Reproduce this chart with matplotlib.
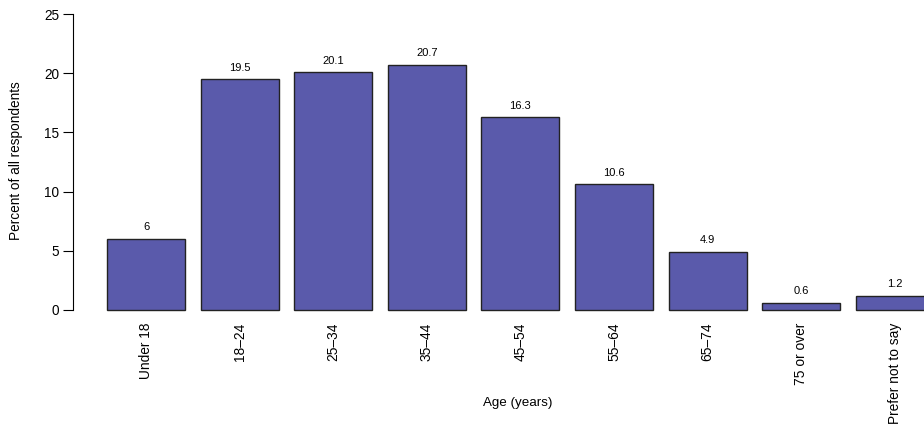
import matplotlib.pyplot as plt
import numpy as np

plt.rcParams['font.family'] = ['Liberation Sans', 'DejaVu Sans']

categories = ['Under 18', '18\u201324', '25\u201334', '35\u201344', '45\u201354',
              '55\u201364', '65\u201374', '75 or over', 'Prefer not to say']
percent = [6, 19.5, 20.1, 20.7, 16.3, 10.6, 4.9, 0.6, 1.2]
value_labels = ['6', '19.5', '20.1', '20.7', '16.3', '10.6', '4.9', '0.6', '1.2']
yticks = [0, 5, 10, 15, 20, 25]

W, H = 924, 426
fig = plt.figure(figsize=(W / 100, H / 100), dpi=100)

# axes placed in pixels to mimic R base graphics layout
left_px, right_px = 73, 924
bottom_px, top_px = 426 - 321.8, 426 - 2.2
ax = fig.add_axes([left_px / W, bottom_px / H, (right_px - left_px) / W, (top_px - bottom_px) / H])

x = 0.7 + 1.2 * np.arange(len(categories))
ax.bar(x, percent, width=1.0, color='#5a5aab', edgecolor='#222222', linewidth=1.0)

for xi, v, lab in zip(x, percent, value_labels):
    ax.text(xi, v + 0.55, lab, ha='center', va='bottom', fontsize=8)

ax.set_xlim(0.2 - 34 / 78, 0.2 + (right_px - 107) / 78)
ax.set_ylim(-1, 26)

for s in ['top', 'right', 'bottom']:
    ax.spines[s].set_visible(False)
ax.spines['left'].set_bounds(0, 25)
ax.spines['left'].set_linewidth(0.8)
ax.set_yticks(yticks)
ax.tick_params(axis='y', length=7, width=0.8, labelsize=9.8, pad=3)

ax.set_xticks(x)
ax.set_xticklabels(categories, rotation=90, fontsize=9.9, va='top', ha='center')
ax.tick_params(axis='x', length=0, pad=0.5)

fig.text(518 / W, 1 - 403 / H, 'Age (years)', ha='center', va='center', fontsize=9.6)
fig.text(16 / W, 1 - 161 / H, 'Percent of all respondents', ha='center', va='center',
         rotation=90, fontsize=9.8)

fig.savefig('out.png', dpi=100)
